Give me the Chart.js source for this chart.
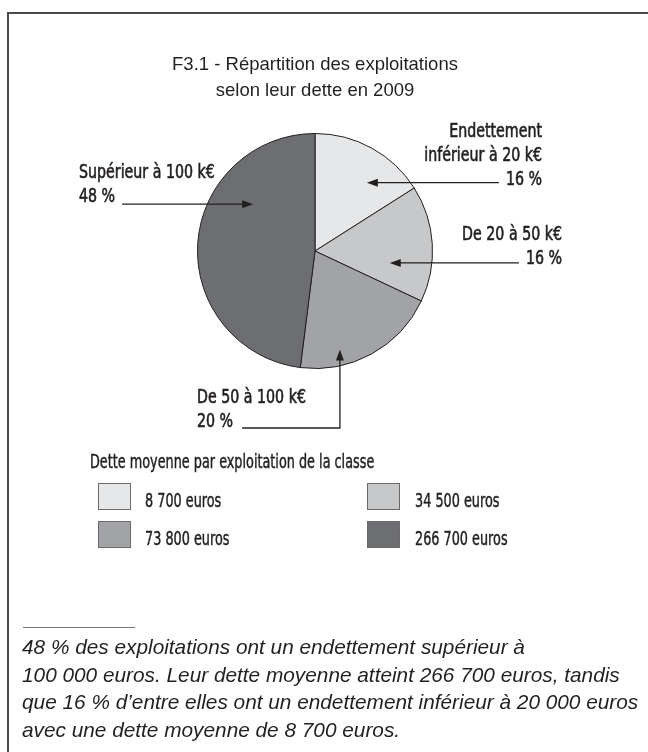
<!DOCTYPE html>
<html lang="fr">
<head>
<meta charset="utf-8">
<script src="https://cdn.jsdelivr.net/npm/chart.js@4.4.1/dist/chart.umd.min.js"></script>
<style>
  body { margin: 0; background: #fff; }
  #page { position: relative; width: 648px; height: 752px; overflow: hidden; }
  #frame { position: absolute; left: 7px; top: 12px; right: -10px; bottom: -10px;
           border-left: 2px solid #4a4a4a; border-top: 2px solid #4a4a4a; }
  #chart { position: absolute; left: 0; top: 0; }
  #title { position: absolute; left: 115px; width: 400px; top: 51px; text-align: center;
           font-family: "Liberation Sans", Arial, sans-serif; font-size: 18.5px; line-height: 26px; color: #231f20; }
  .narrow { font-family: "DejaVu Sans Condensed", "DejaVu Sans", sans-serif; color: #231f20;
            transform: scaleX(0.75); transform-origin: 0 0; white-space: nowrap;
            -webkit-text-stroke: 0.45px #231f20; }
  #legendTitle { position: absolute; left: 90px; top: 450px; font-size: 19px; line-height: 22px; }
  .swatch { position: absolute; width: 31px; height: 25px; border: 1px solid #6a6a6a; }
  .ltext { position: absolute; font-size: 19px; line-height: 22px; }
  #sep { position: absolute; left: 23px; top: 627px; width: 112px; border-top: 1px solid #777; }
  #note { position: absolute; left: 22px; top: 633px; font-family: "Liberation Sans", Arial, sans-serif;
          font-style: italic; font-size: 20.8px; line-height: 27.5px; color: #231f20; white-space: nowrap; }
</style>
</head>
<body>
<div id="page">
  <div id="frame"></div>
  <canvas id="chart" width="648" height="752"></canvas>
  <div id="title"></div>
  <div id="legendTitle" class="narrow">Dette moyenne par exploitation de la classe</div>
  <div id="legend"></div>
  <div id="sep"></div>
  <div id="note">48 % des exploitations ont un endettement supérieur à<br>100 000 euros. Leur dette moyenne atteint 266 700 euros, tandis<br>que 16 % d’entre elles ont un endettement inférieur à 20 000 euros<br>avec une dette moyenne de 8 700 euros.</div>
</div>
<script>
// Debt classes, share of farms (%) and mean debt per farm (euros)
const categories = [['Endettement', 'inférieur à 20 k€'], ['De 20 à 50 k€'], ['De 50 à 100 k€'], ['Supérieur à 100 k€']];
const shares = [16, 16, 20, 48];
const meanDebt = [8700, 34500, 73800, 266700];
const sliceColors = ['#e6e7e8', '#c7c8ca', '#a2a3a6', '#6d6e71'];
const titleLines = ['F3.1 - Répartition des exploitations', 'selon leur dette en 2009'];

const ink = '#231f20';
const labelFont = '20px "DejaVu Sans Condensed", "DejaVu Sans", sans-serif';
const squeeze = 0.79; // the original uses a condensed face, narrower than DejaVu Condensed

// where each arrow points inside its slice (fraction of angle, fraction of radius) and where its text sits
const callouts = [
    { t: 0.646, rf: 0.73, align: 'right', textX: 542, dy: 2 },
    { t: 0.72, rf: 0.644, align: 'right', textX: 562, dy: 1 },
    { t: 0.703, rf: 0.865, align: 'left', textX: 197, dy: -1, elbowY: 428 },
    { t: 0.694, rf: 0.66, align: 'left', textX: 79, dy: -2 }
];

document.getElementById('title').innerHTML = titleLines.join('<br>');

function fmt(n) {
    return String(n).replace(/\B(?=(\d{3})+(?!\d))/g, ' ');
}

function arrowHead(ctx, x, y, dir) {
    ctx.beginPath();
    if (dir === 'left') { ctx.moveTo(x, y); ctx.lineTo(x + 11, y - 4); ctx.lineTo(x + 11, y + 4); }
    if (dir === 'right') { ctx.moveTo(x, y); ctx.lineTo(x - 11, y - 4); ctx.lineTo(x - 11, y + 4); }
    if (dir === 'up') { ctx.moveTo(x, y); ctx.lineTo(x - 4, y + 11); ctx.lineTo(x + 4, y + 11); }
    ctx.closePath();
    ctx.fill();
}

function squeezedText(ctx, s, x, y, align) {
    const w = ctx.measureText(s).width * squeeze;
    ctx.save();
    ctx.translate(align === 'right' ? x - w : x, y);
    ctx.scale(squeeze, 1);
    ctx.textAlign = 'left';
    ctx.lineWidth = 0.6;
    ctx.fillText(s, 0, 0);
    ctx.strokeText(s, 0, 0);
    ctx.restore();
    return w;
}

const calloutPlugin = {
    id: 'callouts',
    afterDatasetsDraw(chart) {
        const ctx = chart.ctx;
        const arcs = chart.getDatasetMeta(0).data;
        ctx.save();
        ctx.font = labelFont;
        ctx.fillStyle = ink;
        ctx.strokeStyle = ink;
        ctx.textBaseline = 'alphabetic';
        arcs.forEach((arc, i) => {
            const c = callouts[i];
            const p = arc.getProps(['x', 'y', 'startAngle', 'endAngle', 'outerRadius'], true);
            const a = p.startAngle + c.t * (p.endAngle - p.startAngle);
            const tipX = p.x + Math.cos(a) * p.outerRadius * c.rf;
            const tipY = p.y + Math.sin(a) * p.outerRadius * c.rf;
            const lineY = c.elbowY !== undefined ? c.elbowY : tipY;
            const lines = categories[i].concat([shares[i] + ' %']);
            const base = lineY + c.dy;
            let lastW = 0;
            lines.forEach((s, k) => {
                lastW = squeezedText(ctx, s, c.textX, base - (lines.length - 1 - k) * 24, c.align);
            });
            ctx.lineWidth = 1.3;
            ctx.beginPath();
            if (c.align === 'right') {
                ctx.moveTo(c.textX - lastW - 7, lineY);
                ctx.lineTo(tipX + 8, lineY);
                ctx.stroke();
                arrowHead(ctx, tipX, lineY, 'left');
            } else if (c.elbowY !== undefined) {
                ctx.moveTo(c.textX + lastW + 9, lineY);
                ctx.lineTo(tipX, lineY);
                ctx.lineTo(tipX, tipY + 8);
                ctx.stroke();
                arrowHead(ctx, tipX, tipY, 'up');
            } else {
                ctx.moveTo(c.textX + lastW + 7, lineY);
                ctx.lineTo(tipX - 8, lineY);
                ctx.stroke();
                arrowHead(ctx, tipX, lineY, 'right');
            }
        });
        ctx.restore();
    }
};

new Chart(document.getElementById('chart').getContext('2d'), {
    type: 'pie',
    data: {
        labels: categories.map(l => l.join(' ')),
        datasets: [{
            data: shares,
            backgroundColor: sliceColors,
            borderColor: ink,
            borderWidth: 1
        }]
    },
    options: {
        responsive: false,
        animation: false,
        layout: {
            padding: { left: 197, right: 215, top: 133, bottom: 383 }
        },
        plugins: {
            legend: { display: false },
            tooltip: { enabled: false },
            title: { display: false }
        }
    },
    plugins: [calloutPlugin]
});

// legend for mean debt, two columns
const legend = document.getElementById('legend');
meanDebt.forEach((v, i) => {
    const col = i % 2, row = Math.floor(i / 2);
    const sw = document.createElement('div');
    sw.className = 'swatch';
    sw.style.left = (98 + col * 269) + 'px';
    sw.style.top = (483 + row * 38) + 'px';
    sw.style.background = sliceColors[i];
    legend.appendChild(sw);
    const tx = document.createElement('div');
    tx.className = 'ltext narrow';
    tx.style.left = (145 + col * 270) + 'px';
    tx.style.top = (489 + row * 38) + 'px';
    tx.textContent = fmt(v) + ' euros';
    legend.appendChild(tx);
});
</script>
</body>
</html>
